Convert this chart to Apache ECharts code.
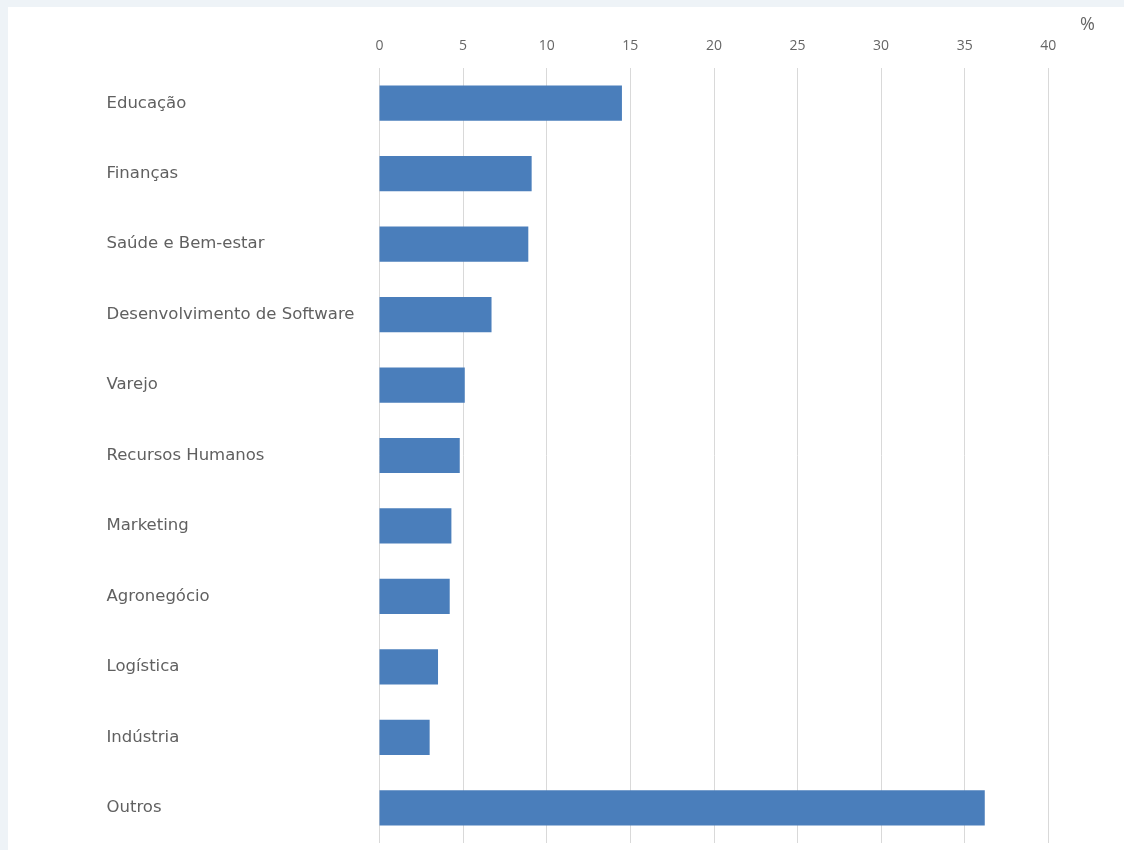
<!DOCTYPE html>
<html>
<head>
<meta charset="utf-8">
<script src="https://cdn.jsdelivr.net/npm/echarts@6/dist/echarts.min.js"></script>
<style>
html,body{margin:0;padding:0;background:#eef3f7;}
#chart{width:1124px;height:850px;}
</style>
</head>
<body>
<div id="chart"></div>
<script>
const categories = ["Educação","Finanças","Saúde e Bem-estar","Desenvolvimento de Software","Varejo","Recursos Humanos","Marketing","Agronegócio","Logística","Indústria","Outros"];
const values = [14.5, 9.1, 8.9, 6.7, 5.1, 4.8, 4.3, 4.2, 3.5, 3.0, 36.2];
const unitLabel = "%";

const chart = echarts.init(document.getElementById('chart'), null, {renderer:'canvas'});
chart.setOption({
  backgroundColor: '#eef3f7',
  animation: false,
  graphic: [
    {type:'rect', left:8, top:7, shape:{width:1116, height:843}, style:{fill:'#ffffff'}, z:-10},
    {type:'text', left:1080, top:16, style:{text:unitLabel, fill:'#666666', font:'18px "Open Sans"'}}
  ],
  grid: {left:379.5, right:75.7, top:68, bottom:7, containLabel:false},
  xAxis: {
    type:'value', position:'top', min:0, max:40, interval:5,
    axisLine:{show:false}, axisTick:{show:false},
    splitLine:{lineStyle:{color:'#d9d9d9', width:1}},
    axisLabel:{color:'#666666', fontFamily:'Open Sans', fontSize:14, margin:15}
  },
  yAxis: {
    type:'category', data:categories, inverse:true,
    axisLine:{show:false}, axisTick:{show:false},
    axisLabel:{color:'#606060', fontFamily:'"DejaVu Sans"', fontSize:16.5, align:'left', margin:273}
  },
  series: [{
    type:'bar', data:values, barWidth:'50%',
    itemStyle:{color:'#4a7ebb'}
  }]
});
</script>
</body>
</html>
